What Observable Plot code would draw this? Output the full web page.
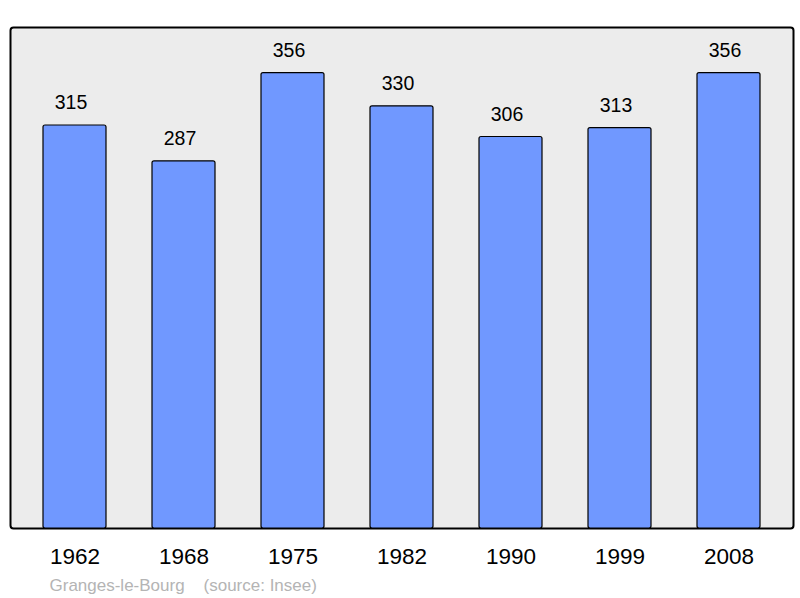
<!DOCTYPE html>
<html>
<head>
<meta charset="utf-8">
<script src="https://cdn.jsdelivr.net/npm/d3@7"></script>
<script src="https://cdn.jsdelivr.net/npm/@observablehq/plot@0.6"></script>
<style>
  body { margin: 0; background: #fff; }
  svg { display: block; }
</style>
</head>
<body>
<div id="chart"></div>
<script>
const years = ["1962", "1968", "1975", "1982", "1990", "1999", "2008"];
const population = [315, 287, 356, 330, 306, 313, 356];
const commune = "Granges-le-Bourg";
const source = "(source: Insee)";

const data = years.map((y, i) => ({year: y, pop: population[i]}));
const yMax = d3.max(population) * 1.1;

const chart = Plot.plot({
  width: 800,
  height: 598,
  marginLeft: 10,
  marginRight: 7,
  marginTop: 27,
  marginBottom: 70,
  style: {fontFamily: "'Liberation Sans', Arial, sans-serif", background: "#fff"},
  x: {domain: years, paddingInner: 0.424, paddingOuter: 0.29, label: null},
  y: {domain: [0, yMax], axis: null},
  marks: [
    Plot.frame({fill: "#ececec", stroke: "black", strokeWidth: 2, rx: 3}),
    Plot.barY(data, {x: "year", y: "pop", fill: "#7098ff", stroke: "black", strokeWidth: 1.2, rx: 2}),
    Plot.text(data, {x: "year", y: "pop", text: d => String(d.pop), dx: -4, dy: -16, lineAnchor: "bottom", fontSize: 19.5, fill: "black"}),
    Plot.axisX({tickSize: 0, tickPadding: 20, fontSize: 22.5, label: null, color: "black"}),
    Plot.text([commune + "\u00a0\u00a0\u00a0\u00a0" + source], {frameAnchor: "bottom-left", dx: 39, dy: 62, lineAnchor: "bottom", textAnchor: "start", fontSize: 17, fill: "#b4b4b4"})
  ]
});
document.getElementById("chart").append(chart);
</script>
</body>
</html>
